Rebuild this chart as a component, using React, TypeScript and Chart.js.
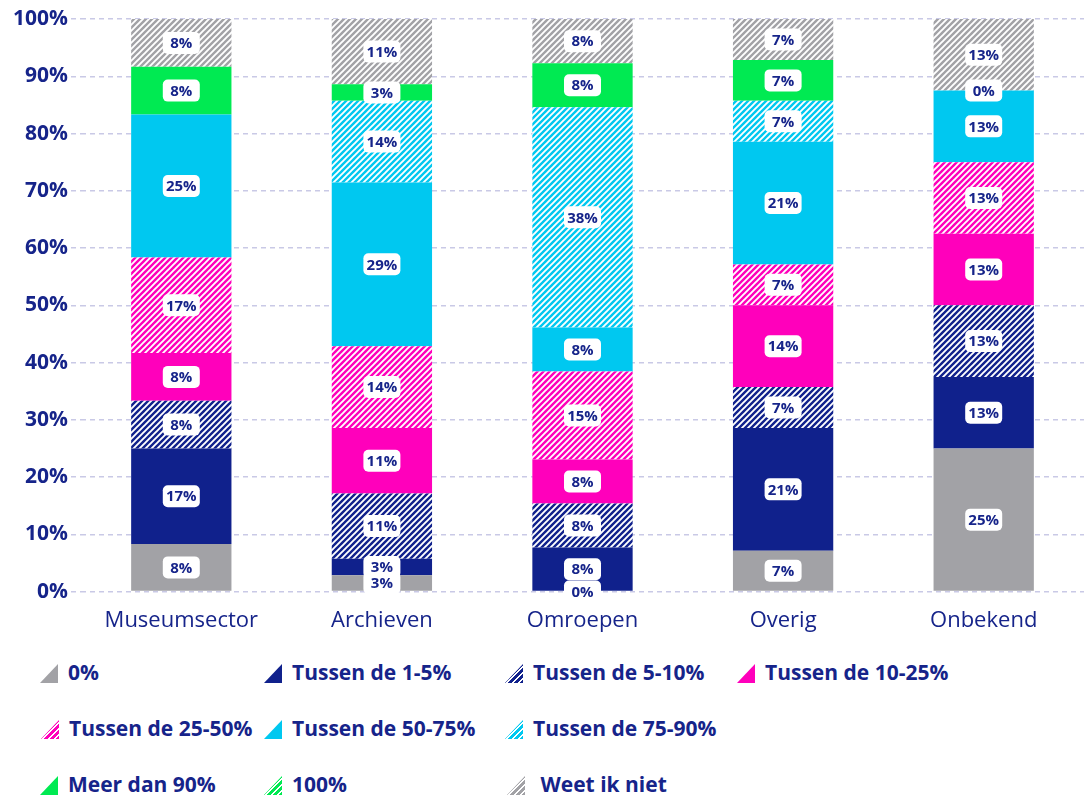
import React, { useEffect, useRef } from 'react';
import { Chart, registerables } from 'chart.js';

Chart.register(...registerables);

// ---------- DATA ----------
const categories = ['Museumsector', 'Archieven', 'Omroepen', 'Overig', 'Onbekend'];
const seriesLabels = [
  '0%',
  'Tussen de 1-5%',
  'Tussen de 5-10%',
  'Tussen de 10-25%',
  'Tussen de 25-50%',
  'Tussen de 50-75%',
  'Tussen de 75-90%',
  'Meer dan 90%',
  '100%',
  ' Weet ik niet',
];
const s0pct = [8.33, 2.86, 0, 7.14, 25];
const s1to5 = [16.67, 2.86, 7.69, 21.43, 12.5];
const s5to10 = [8.33, 11.43, 7.69, 7.14, 12.5];
const s10to25 = [8.33, 11.43, 7.69, 14.29, 12.5];
const s25to50 = [16.67, 14.29, 15.38, 7.14, 12.5];
const s50to75 = [25, 28.57, 7.69, 21.43, 12.5];
const s75to90 = [null, 14.29, 38.46, 7.14, null];
const sOver90 = [8.33, 2.86, 7.69, 7.14, 0];
const s100 = [null, null, null, null, null];
const sUnknown = [8.33, 11.43, 7.69, 7.14, 12.5];
const seriesValues = [s0pct, s1to5, s5to10, s10to25, s25to50, s50to75, s75to90, sOver90, s100, sUnknown];
const yTickValues = [0, 10, 20, 30, 40, 50, 60, 70, 80, 90, 100];

// ---------- STYLE ----------
const GREY = '#a2a2a6';
const NAVY = '#10218c';
const MAGENTA = '#ff00bb';
const CYAN = '#00c8f0';
const GREEN = '#00ea52';
const TEXT = '#16248a';
const GRID = '#c9c9e6';
const FONT = "'Open Sans', 'Noto Sans', sans-serif";

const seriesColors = [GREY, NAVY, NAVY, MAGENTA, MAGENTA, CYAN, CYAN, GREEN, GREEN, GREY];
const seriesHatched = [false, false, true, false, true, false, true, false, true, true];

const legendLeft = [40, 264, 505, 737, 41, 264, 505, 40, 264, 507];
const legendRow = [0, 0, 0, 0, 1, 1, 1, 2, 2, 2];

function makePattern(color: string): CanvasPattern | string {
  const size = 6;
  const c = document.createElement('canvas');
  c.width = size;
  c.height = size;
  const g = c.getContext('2d');
  if (!g) return color;
  g.fillStyle = color;
  g.fillRect(0, 0, size, size);
  g.strokeStyle = '#ffffff';
  g.lineWidth = 1.9;
  g.beginPath();
  g.moveTo(-1, size + 1);
  g.lineTo(size + 1, -1);
  g.moveTo(-1, 1);
  g.lineTo(1, -1);
  g.moveTo(size - 1, size + 1);
  g.lineTo(size + 1, size - 1);
  g.stroke();
  const p = g.createPattern(c, 'repeat');
  return p || color;
}

const labelPlugin = {
  id: 'segmentLabels',
  afterDatasetsDraw(chart: any) {
    const ctx = chart.ctx as CanvasRenderingContext2D;
    ctx.save();
    ctx.font = `bold 15px ${FONT}`;
    ctx.textAlign = 'center';
    ctx.textBaseline = 'middle';
    chart.data.datasets.forEach((ds: any, i: number) => {
      const meta = chart.getDatasetMeta(i);
      if (meta.hidden) return;
      meta.data.forEach((el: any, j: number) => {
        const v = ds.data[j];
        if (v === null || v === undefined) return;
        const { x, y, base } = el.getProps(['x', 'y', 'base'], true);
        const cy = (y + base) / 2;
        const w = 37;
        const h = 22;
        ctx.fillStyle = '#ffffff';
        ctx.beginPath();
        (ctx as any).roundRect(x - w / 2, cy - h / 2, w, h, 5);
        ctx.fill();
        ctx.fillStyle = TEXT;
        ctx.fillText(Math.round(v) + '%', x, cy + 1);
      });
    });
    ctx.restore();
  },
};

export default function App() {
  const canvasRef = useRef<HTMLCanvasElement | null>(null);

  useEffect(() => {
    if (!canvasRef.current) return;
    const datasets = seriesLabels.map((label, i) => ({
      label,
      data: seriesValues[i],
      backgroundColor: seriesHatched[i] ? makePattern(seriesColors[i]) : seriesColors[i],
      borderWidth: 0,
      barPercentage: 1,
      categoryPercentage: 0.5,
      stack: 'a',
    }));
    const chart = new Chart(canvasRef.current, {
      type: 'bar',
      data: { labels: categories, datasets: datasets as any },
      options: {
        animation: false,
        responsive: false,
        devicePixelRatio: 1,
        layout: { padding: { top: 19, bottom: 8, left: 0, right: 0 } },
        plugins: {
          legend: { display: false },
          tooltip: { enabled: false },
        },
        scales: {
          x: {
            stacked: true,
            grid: { display: false, drawTicks: false },
            border: { display: false },
            ticks: {
              color: TEXT,
              padding: 16,
              font: { family: FONT, size: 22, weight: 'normal' },
            },
          },
          y: {
            stacked: true,
            min: 0,
            max: 100,
            afterFit(scale: any) {
              scale.width = 81;
            },
            afterBuildTicks(scale: any) {
              scale.ticks = yTickValues.map((v) => ({ value: v }));
            },
            grid: {
              color: GRID,
              lineWidth: 1.5,
              drawTicks: true,
              tickLength: 10,
              tickBorderDash: [5, 4],
            },
            border: { display: false, dash: [5, 4] },
            ticks: {
              color: TEXT,
              padding: 3,
              font: { family: FONT, size: 21, weight: 'bold' },
              callback: (v: any) => v + '%',
            },
          },
        },
      },
      plugins: [labelPlugin],
    });
    return () => chart.destroy();
  }, []);

  return (
    <div style={{ position: 'absolute', left: 0, top: 0, width: 1084, height: 798, background: '#fff' }}>
      <canvas ref={canvasRef} width={1084} height={658} style={{ display: 'block' }} />
      {seriesLabels.map((label, i) => {
        const top = 664 + legendRow[i] * 56;
        const color = seriesColors[i];
        const bg = seriesHatched[i]
          ? `repeating-linear-gradient(-45deg, ${color} 0px, ${color} 2.6px, #ffffff 2.6px, #ffffff 4.24px)`
          : color;
        return (
          <div key={i}>
            <div
              style={{
                position: 'absolute',
                left: legendLeft[i],
                top,
                width: 18,
                height: 19,
                background: bg,
                clipPath: 'polygon(100% 0, 100% 100%, 0 100%)',
              }}
            />
            <div
              style={{
                position: 'absolute',
                left: legendLeft[i] + 28,
                top: top - 4,
                lineHeight: '24px',
                fontFamily: FONT,
                fontWeight: 700,
                fontSize: 21,
                color: TEXT,
                whiteSpace: 'pre',
              }}
            >
              {label}
            </div>
          </div>
        );
      })}
    </div>
  );
}
